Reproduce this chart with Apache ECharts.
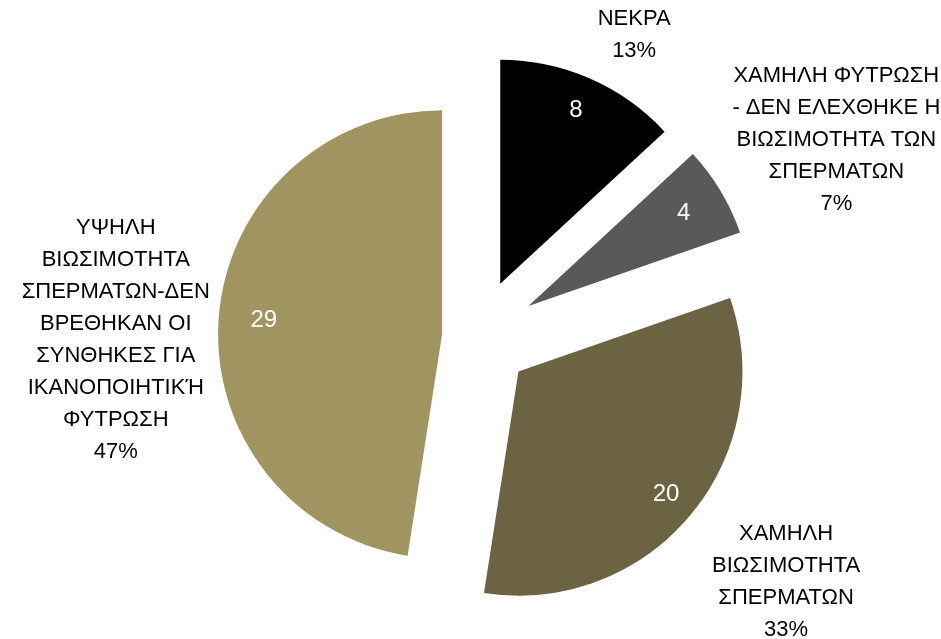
<!doctype html>
<html>
<head>
<meta charset="utf-8">
<style>
html, body { margin: 0; padding: 0; background: #fff; }
#main { width: 941px; height: 639px; }
</style>
</head>
<body>
<div id="main"></div>
<script src="https://cdn.jsdelivr.net/npm/echarts@6/dist/echarts.min.js"></script>
<script>
var chart = echarts.init(document.getElementById('main'));

var categories = [
    'ΝΕΚΡΑ',
    'ΧΑΜΗΛΗ ΦΥΤΡΩΣΗ\n- ΔΕΝ ΕΛΕΧΘΗΚΕ Η\nΒΙΩΣΙΜΟΤΗΤΑ ΤΩΝ\nΣΠΕΡΜΑΤΩΝ',
    'ΧΑΜΗΛΗ\nΒΙΩΣΙΜΟΤΗΤΑ\nΣΠΕΡΜΑΤΩΝ',
    'ΥΨΗΛΗ\nΒΙΩΣΙΜΟΤΗΤΑ\nΣΠΕΡΜΑΤΩΝ-ΔΕΝ\nΒΡΕΘΗΚΑΝ ΟΙ\nΣΥΝΘΗΚΕΣ ΓΙΑ\nΙΚΑΝΟΠΟΙΗΤΙΚΉ\nΦΥΤΡΩΣΗ'
];
var counts = [8, 4, 20, 29];

var colors = ['#000000', '#595959', '#6b6341', '#a09560'];
var explode = [58, 60, 54, 35];
// outer label: length along radius, horizontal length, vertical nudge
var labelLen = [[48, 25], [99, 31], [105, 15], [0, 103]];
var labelDy = [0, 0, 0, 23];
// inner edge of the ring that carries the value label (fraction of R)
var valueRing = [0.66, 0.59, 0.69, 0.57];

var center = [477, 337];
var R = 224;
var font = '"Liberation Sans", Arial, sans-serif';
var none = 'rgba(0,0,0,0)';

// one series per slice, so every slice can have its own explosion
function sliceSeries(k, inner) {
    return {
        type: 'pie',
        silent: true,
        animation: false,
        center: center,
        radius: inner ? [R * valueRing[k], R] : [0, R],
        startAngle: 90,
        clockwise: true,
        selectedMode: 'multiple',
        selectedOffset: explode[k],
        avoidLabelOverlap: false,
        percentPrecision: 0,
        itemStyle: { borderWidth: 0 },
        label: inner ? {
            position: 'inside',
            formatter: '{c}',
            color: '#fff',
            fontSize: 24,
            fontFamily: font
        } : {
            position: 'outside',
            formatter: '{b}\n{d}%',
            color: '#000',
            fontSize: 22,
            lineHeight: 32,
            fontFamily: font,
            width: 260,
            overflow: 'none',
            distanceToLabelLine: 0
        },
        labelLine: { show: false, length: labelLen[k][0], length2: labelLen[k][1] },
        labelLayout: inner ? null : function () {
            return { align: 'center', dy: labelDy[k] };
        },
        data: counts.map(function (v, i) {
            return {
                name: categories[i],
                value: v,
                selected: i === k,
                itemStyle: { color: (i === k && !inner) ? colors[i] : none, borderWidth: 0 },
                label: { show: i === k }
            };
        })
    };
}

var series = [];
counts.forEach(function (v, k) {
    series.push(sliceSeries(k, false));
    series.push(sliceSeries(k, true));
});

chart.setOption({
    backgroundColor: '#fff',
    animation: false,
    series: series
});

window.addEventListener('resize', function () {
    chart.resize();
});
</script>
</body>
</html>
